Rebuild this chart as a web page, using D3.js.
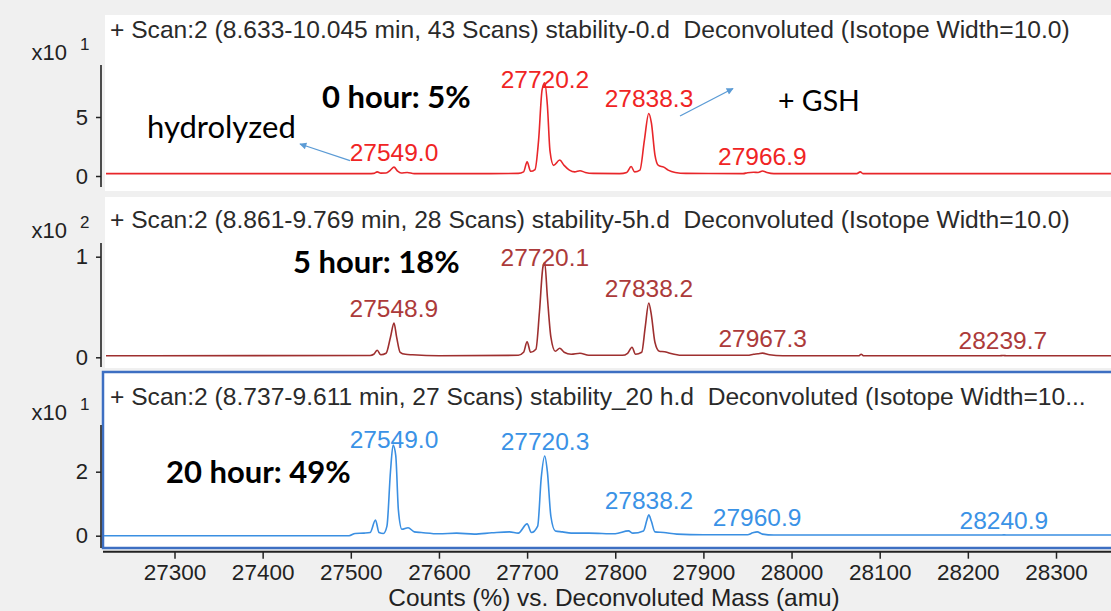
<!DOCTYPE html>
<html>
<head>
<meta charset="utf-8">
<script src="https://cdn.jsdelivr.net/npm/d3@7/dist/d3.min.js"></script>
<style>
  html, body { margin: 0; padding: 0; background: #f0f0f0; }
  svg { display: block; }
  text { white-space: pre; }
</style>
</head>
<body>
<svg id="chart" width="1111" height="611"></svg>
<script>
// ---- data ----
const massTicks = [27300, 27400, 27500, 27600, 27700, 27800, 27900, 28000, 28100, 28200, 28300];

const panelTitles = [
  "+ Scan:2 (8.633-10.045 min, 43 Scans) stability-0.d  Deconvoluted (Isotope Width=10.0)",
  "+ Scan:2 (8.861-9.769 min, 28 Scans) stability-5h.d  Deconvoluted (Isotope Width=10.0)",
  "+ Scan:2 (8.737-9.611 min, 27 Scans) stability_20 h.d  Deconvoluted (Isotope Width=10..."
];
const panelExponents = ["1", "2", "1"];
const yTicks0 = [0, 5];
const yTicks1 = [0, 1];
const yTicks2 = [0, 2];

// deconvoluted spectra: [mass (amu), counts in units of the panel exponent]
const spectrum0 = [
  [27215, 0.2], [27520, 0.2], [27526, 0.22], [27530, 0.35], [27534, 0.24], [27540, 0.25],
  [27545, 0.5], [27549, 0.75], [27553, 0.42], [27557, 0.25], [27564, 0.3], [27572, 0.2],
  [27640, 0.2], [27690, 0.22], [27696, 0.35], [27700, 1.2], [27704, 0.4], [27709, 0.55],
  [27713, 3.0], [27717, 7.3], [27720, 7.9], [27723, 6.0], [27726, 2.1], [27730, 0.9],
  [27737, 1.35], [27742, 0.9], [27748, 0.5], [27754, 0.35], [27760, 0.45], [27766, 0.3],
  [27775, 0.22], [27805, 0.2], [27813, 0.3], [27818, 0.8], [27822, 0.35], [27828, 0.5],
  [27833, 3.0], [27838, 5.3], [27841, 4.5], [27845, 1.8], [27849, 0.9], [27855, 0.75],
  [27860, 0.5], [27868, 0.3], [27880, 0.22], [27945, 0.2], [27950, 0.28], [27957, 0.32],
  [27962, 0.3], [27967, 0.42], [27972, 0.3], [27980, 0.2], [28074, 0.2], [28078, 0.35],
  [28081, 0.2], [28365, 0.2]
];
const spectrum1 = [
  [27215, 0.015], [27522, 0.018], [27526, 0.03], [27530, 0.07], [27534, 0.025], [27540, 0.04],
  [27545, 0.2], [27549, 0.34], [27552, 0.2], [27556, 0.05], [27562, 0.03], [27570, 0.025],
  [27600, 0.016], [27690, 0.02], [27696, 0.05], [27700, 0.155], [27704, 0.05], [27710, 0.08],
  [27714, 0.45], [27718, 0.9], [27720, 0.94], [27723, 0.6], [27727, 0.2], [27732, 0.06],
  [27737, 0.09], [27742, 0.05], [27750, 0.03], [27760, 0.04], [27770, 0.02], [27808, 0.02],
  [27814, 0.04], [27819, 0.1], [27823, 0.03], [27830, 0.05], [27834, 0.3], [27838, 0.54],
  [27841, 0.42], [27845, 0.15], [27850, 0.06], [27856, 0.055], [27862, 0.04], [27875, 0.02],
  [27950, 0.02], [27957, 0.03], [27962, 0.035], [27967, 0.042], [27975, 0.025], [27990, 0.016],
  [28076, 0.015], [28079, 0.03], [28082, 0.015], [28236, 0.016], [28240, 0.018], [28244, 0.016],
  [28365, 0.015]
];
const spectrum2 = [
  [27215, 0.0], [27498, 0.0], [27505, 0.07], [27515, 0.08], [27522, 0.1], [27528, 0.49],
  [27532, 0.1], [27537, 0.07], [27541, 0.3], [27545, 2.0], [27548, 2.83], [27551, 2.5],
  [27554, 0.8], [27558, 0.2], [27565, 0.25], [27572, 0.12], [27580, 0.1], [27600, 0.06],
  [27620, 0.08], [27640, 0.05], [27660, 0.09], [27680, 0.12], [27690, 0.08], [27700, 0.37],
  [27705, 0.1], [27712, 0.3], [27716, 1.8], [27720, 2.49], [27723, 2.0], [27727, 0.6],
  [27732, 0.15], [27740, 0.12], [27750, 0.08], [27770, 0.08], [27800, 0.06], [27815, 0.15],
  [27820, 0.08], [27832, 0.15], [27836, 0.5], [27838, 0.65], [27841, 0.45], [27845, 0.12],
  [27855, 0.1], [27870, 0.05], [27900, 0.03], [27950, 0.03], [27956, 0.09], [27961, 0.12],
  [27967, 0.05], [27980, 0.02], [28236, 0.02], [28241, 0.025], [28246, 0.02], [28365, 0.02]
];

const peakLabels0 = ["27549.0", "27720.2", "27838.3", "27966.9"];
const peakLabels1 = ["27548.9", "27720.1", "27838.2", "27967.3", "28239.7"];
const peakLabels2 = ["27549.0", "27720.3", "27838.2", "27960.9", "28240.9"];

const conditionLabels = ["0 hour: 5%", "5 hour: 18%", "20 hour: 49%"];
const noteLabels = ["hydrolyzed", "+ GSH"];
const xAxisTitle = "Counts (%) vs. Deconvoluted Mass (amu)";

// ---- layout ----
const W = 1111, H = 611;
const svg = d3.select("#chart");
const sansFont = "'Liberation Sans', Arial, sans-serif";
const noteFont = "Lato, 'Open Sans', sans-serif";

const x = d3.scaleLinear().domain([27300, 28300]).range([174.5, 1056]);

const panels = [
  { top: 15, bottom: 191, left: 105, zeroY: 176, tickY: 117, axisTop: 65, axisBottom: 187, titleY: 38,
    ticks: yTicks0, data: spectrum0, peaks: peakLabels0, line: "#e8262a", label: "#f02424", framed: false },
  { top: 197, bottom: 368, left: 105, zeroY: 357.3, tickY: 256.7, axisTop: 243, axisBottom: 367, titleY: 228,
    ticks: yTicks1, data: spectrum1, peaks: peakLabels1, line: "#9e2f2f", label: "#ac3a3a", framed: false },
  { top: 372, bottom: 548, left: 103, zeroY: 535.7, tickY: 471.7, axisTop: 425, axisBottom: 548, titleY: 405,
    ticks: yTicks2, data: spectrum2, peaks: peakLabels2, line: "#3a8fe2", label: "#3a92e6", framed: true }
];

svg.append("rect").attr("width", W).attr("height", H).attr("fill", "#f0f0f0");

panels.forEach((p, i) => {
  const g = svg.append("g");
  // panel background
  g.append("rect")
    .attr("x", p.left).attr("y", p.top)
    .attr("width", W - p.left + 5).attr("height", p.bottom - p.top)
    .attr("fill", "#ffffff")
    .attr("stroke", p.framed ? "#3d6fc2" : "none")
    .attr("stroke-width", p.framed ? 2.5 : 0);

  const y = d3.scaleLinear()
    .domain([0, p.ticks[p.ticks.length - 1]])
    .range([p.zeroY, p.tickY]);

  // clip the trace to the panel
  const clipId = "clip" + i;
  svg.append("clipPath").attr("id", clipId)
    .append("rect").attr("x", p.left + 1).attr("y", p.top + 1)
    .attr("width", W - p.left).attr("height", p.bottom - p.top - 2);

  const line = d3.line()
    .x(d => x(d[0]))
    .y(d => y(d[1]))
    .curve(d3.curveMonotoneX);

  g.append("path")
    .datum(p.data)
    .attr("clip-path", `url(#${clipId})`)
    .attr("d", line)
    .attr("fill", "none")
    .attr("stroke", p.line)
    .attr("stroke-width", 1.6)
    .attr("stroke-linejoin", "round");

  // title
  g.append("text")
    .attr("x", 110).attr("y", p.titleY)
    .attr("font-family", sansFont).attr("font-size", 24.6)
    .attr("fill", "#2a2a2a")
    .text(panelTitles[i]);

  // y axis
  const yAxis = d3.axisLeft(y).tickValues(p.ticks).tickSize(5).tickPadding(8)
    .tickSizeOuter(0).tickFormat(d3.format("d"));
  const ag = g.append("g").attr("transform", "translate(101,0)").call(yAxis);
  ag.select(".domain").remove();
  ag.selectAll(".tick line").attr("stroke", "#222").attr("stroke-width", 1.5);
  ag.selectAll(".tick text")
    .attr("font-family", sansFont).attr("font-size", 22).attr("fill", "#222");
  g.append("line")
    .attr("x1", 101).attr("x2", 101)
    .attr("y1", p.axisTop).attr("y2", p.axisBottom)
    .attr("stroke", "#222").attr("stroke-width", 1.6);

  // scale exponent
  g.append("text")
    .attr("x", 67).attr("y", p.axisTop - 5)
    .attr("text-anchor", "end")
    .attr("font-family", sansFont).attr("font-size", 22).attr("fill", "#222")
    .text("x10");
  g.append("text")
    .attr("x", 80).attr("y", p.axisTop - 15)
    .attr("font-family", sansFont).attr("font-size", 17).attr("fill", "#222")
    .text(panelExponents[i]);

  // peak labels, placed above each labelled peak
  p.peaks.forEach(lbl => {
    const m = parseFloat(lbl);
    const near = p.data.filter(d => Math.abs(d[0] - m) <= 4);
    const top = d3.max(near, d => d[1]);
    const ty = Math.max(y(top) - 6, p.axisTop + 23);
    g.append("text")
      .attr("x", x(m)).attr("y", ty)
      .attr("text-anchor", "middle")
      .attr("font-family", sansFont).attr("font-size", 24.5)
      .attr("fill", p.label)
      .text(lbl);
  });
});

// shared mass axis
const xAxis = d3.axisBottom(x).tickValues(massTicks).tickSize(7).tickPadding(5)
  .tickFormat(d3.format("d")).tickSizeOuter(0);
const xg = svg.append("g").attr("transform", "translate(0,551.7)").call(xAxis);
xg.select(".domain").remove();
xg.selectAll(".tick line").attr("stroke", "#222").attr("stroke-width", 1.5);
xg.selectAll(".tick text").attr("font-family", sansFont).attr("font-size", 22.5).attr("fill", "#222");
svg.append("line").attr("x1", 103).attr("x2", W).attr("y1", 551.7).attr("y2", 551.7)
  .attr("stroke", "#222").attr("stroke-width", 2);
svg.append("text")
  .attr("x", 614).attr("y", 605.5).attr("text-anchor", "middle")
  .attr("font-family", sansFont).attr("font-size", 24.4).attr("fill", "#222")
  .text(xAxisTitle);

// condition annotations
const conditionPos = [[322, 108], [293, 273], [166, 483]];
conditionLabels.forEach((t, i) => {
  svg.append("text")
    .attr("x", conditionPos[i][0]).attr("y", conditionPos[i][1])
    .attr("font-family", noteFont).attr("font-weight", 700).attr("font-size", 31)
    .attr("fill", "#000").text(t);
});

// side notes with arrows
const notePos = [[147, 138], [778, 111]];
const noteSize = [31, 28.5];
noteLabels.forEach((t, i) => {
  svg.append("text")
    .attr("x", notePos[i][0]).attr("y", notePos[i][1])
    .attr("font-family", noteFont).attr("font-size", noteSize[i])
    .attr("fill", "#000").text(t);
});

svg.append("defs").append("marker")
  .attr("id", "arrowHead").attr("viewBox", "0 0 10 10")
  .attr("refX", 9).attr("refY", 5)
  .attr("markerWidth", 9).attr("markerHeight", 7)
  .attr("markerUnits", "userSpaceOnUse")
  .attr("orient", "auto")
  .append("path").attr("d", "M0,0 L10,5 L0,10 Z").attr("fill", "#5b9bd5");

const arrows = [[350, 160.7, 300, 144], [680, 116, 733, 88.5]];
arrows.forEach(a => {
  svg.append("line")
    .attr("x1", a[0]).attr("y1", a[1]).attr("x2", a[2]).attr("y2", a[3])
    .attr("stroke", "#5b9bd5").attr("stroke-width", 1.3)
    .attr("marker-end", "url(#arrowHead)");
});
</script>
</body>
</html>
